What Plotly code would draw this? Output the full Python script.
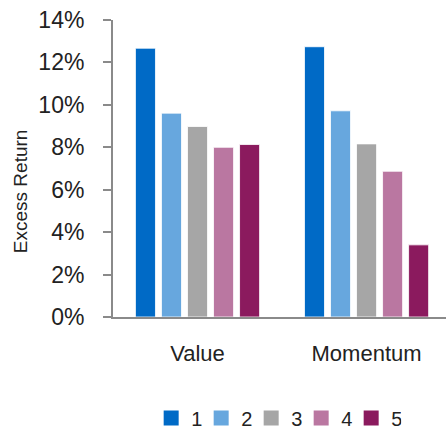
import plotly.graph_objects as go

categories = ["Value", "Momentum"]
series_names = ["1", "2", "3", "4", "5"]
values = {
    "1": [12.67, 12.74],
    "2": [9.61, 9.72],
    "3": [8.98, 8.16],
    "4": [8.00, 6.87],
    "5": [8.13, 3.40],
}
colors = ["#006AC6", "#67A7DE", "#A6A6A6", "#BA77A1", "#8B1A5E"]
y_ticks = [0, 2, 4, 6, 8, 10, 12, 14]
y_ticklabels = [f"{t}%" for t in y_ticks]
y_title = "Excess Return"

FONT = "Liberation Sans"
TXT = "#222222"
fig = go.Figure()
for name, col in zip(series_names, colors):
    fig.add_trace(go.Bar(
        x=categories, y=values[name], name=name, showlegend=False,
        marker=dict(color=col, line=dict(color="white", width=0.8)),
    ))
# legend entries (square swatches)
for name, col in zip(series_names, colors):
    fig.add_trace(go.Scatter(
        x=[None], y=[None], mode="markers", name=name,
        marker=dict(symbol="square", size=15, color=col),
    ))

fig.add_annotation(
    text=y_title, textangle=-90, xref="paper", yref="paper",
    x=-0.279, y=0.424, xanchor="center", yanchor="middle", showarrow=False,
    font=dict(size=19, family=FONT, color=TXT),
)

fig.update_layout(
    width=446, height=430,
    margin=dict(l=113, r=0, t=20, b=113, autoexpand=False),
    paper_bgcolor="white", plot_bgcolor="white",
    barmode="group", bargap=0.23, bargroupgap=0.23,
    font=dict(family=FONT, color=TXT),
    showlegend=True,
    legend=dict(
        orientation="h", x=0.49, xanchor="center", y=-0.34, yanchor="middle",
        font=dict(size=20, family=FONT, color=TXT),
        entrywidth=5, entrywidthmode="pixels", traceorder="normal",
    ),
    xaxis=dict(
        range=[-0.5, 1.47], showline=True, linecolor="#8a8a8a", linewidth=2,
        ticks="", tickfont=dict(size=22, family=FONT, color=TXT),
        ticklabelstandoff=16, showgrid=False, zeroline=False,
    ),
    yaxis=dict(
        range=[0, 14], tickvals=y_ticks, ticktext=y_ticklabels,
        showline=True, linecolor="#8a8a8a", linewidth=2,
        ticks="outside", ticklen=8, tickwidth=2, tickcolor="#8a8a8a",
        tickfont=dict(size=23, family=FONT, color=TXT),
        ticklabelstandoff=14,
        showgrid=False, zeroline=False,
    ),
)

fig.write_html("out.html")
